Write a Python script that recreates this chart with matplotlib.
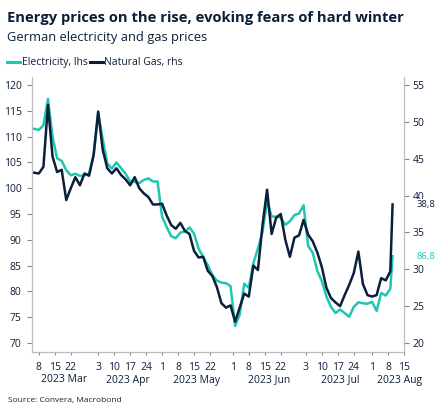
import matplotlib
matplotlib.use('Agg')
import matplotlib.pyplot as plt
from matplotlib.lines import Line2D
from matplotlib.transforms import blended_transform_factory
import pandas as pd

# ---- data ----
electricity = [111.5, 111.3, 112.2, 117.3, 110.0, 105.8, 105.3, 103.5, 102.5, 102.8,
               102.4, 102.5, 102.8, 106.5, 114.5, 109.5, 104.8, 103.8, 105.0, 103.9,
               102.8, 101.3, 101.2, 101.0, 101.6, 101.9, 101.3, 101.3, 94.5, 92.5,
               90.7, 90.3, 91.4, 91.6, 92.4, 91.2, 88.3, 86.7, 85.1, 83.2,
               82.1, 81.7, 81.6, 81.0, 73.3, 75.5, 81.5, 80.7, 85.5, 88.3,
               91.5, 97.5, 94.5, 94.5, 94.3, 92.9, 93.6, 94.8, 95.1, 96.7,
               88.8, 87.5, 84.0, 82.0, 79.0, 77.0, 75.8, 76.5, 75.8, 75.1,
               77.0, 77.9, 77.7, 77.6, 78.0, 76.2, 79.7, 79.2, 80.5, 86.8]
natural_gas = [43.1, 43.0, 43.9, 52.3, 45.3, 43.2, 43.5, 39.4, 41.0, 42.5,
               41.4, 43.0, 42.7, 45.5, 51.4, 46.2, 43.7, 43.0, 43.7, 42.8,
               42.2, 41.4, 42.5, 41.0, 40.3, 39.8, 38.8, 38.8, 38.9, 37.3,
               36.0, 35.5, 36.3, 35.2, 34.8, 32.5, 31.6, 31.7, 29.8, 29.1,
               27.6, 25.4, 24.8, 25.1, 22.9, 24.8, 26.7, 26.3, 30.5, 29.9,
               36.0, 40.8, 34.8, 37.0, 37.5, 34.0, 31.7, 34.3, 34.6, 36.7,
               34.7, 33.8, 32.3, 30.3, 27.5, 26.1, 25.5, 25.0, 26.5, 27.9,
               29.5, 32.4, 28.0, 26.5, 26.3, 26.5, 28.8, 28.5, 29.7, 38.8]
dates = list(pd.date_range('2023-03-06', '2023-08-09', freq='2D')) + [pd.Timestamp('2023-08-10')]

tick_dates = ['2023-03-08', '2023-03-15', '2023-03-22', '2023-04-03', '2023-04-10',
              '2023-04-17', '2023-04-24', '2023-05-01', '2023-05-08', '2023-05-15',
              '2023-05-22', '2023-06-01', '2023-06-08', '2023-06-15', '2023-06-22',
              '2023-07-03', '2023-07-10', '2023-07-17', '2023-07-24', '2023-08-01',
              '2023-08-08', '2023-08-15']
month_labels = ['2023 Mar', '2023 Apr', '2023 May', '2023 Jun', '2023 Jul', '2023 Aug']
month_label_dates = ['2023-03-19', '2023-04-16', '2023-05-16', '2023-06-17', '2023-07-18', '2023-08-13']

left_ticks = [70, 75, 80, 85, 90, 95, 100, 105, 110, 115, 120]
right_ticks = [20, 25, 30, 35, 40, 45, 50, 55]

title = 'Energy prices on the rise, evoking fears of hard winter'
subtitle = 'German electricity and gas prices'
source = 'Source: Convera, Macrobond'

TEAL = '#1fc6b0'
NAVY = '#0b1f3b'
GRAY = '#bdbdbd'

plt.rcParams['font.family'] = ['Open Sans', 'DejaVu Sans']

W, H = 445, 416
fig = plt.figure(figsize=(W / 100, H / 100), dpi=100)
ax = fig.add_axes([32 / W, (H - 352) / H, (404 - 32) / W, (352 - 77) / H])
ax2 = ax.twinx()

ax.plot(pd.to_datetime(dates), electricity, color=TEAL, lw=1.8, solid_joinstyle='round')
ax2.plot(pd.to_datetime(dates), natural_gas, color=NAVY, lw=1.8, solid_joinstyle='round')

ax.set_xlim(pd.Timestamp('2023-03-05'), pd.Timestamp('2023-08-15'))
ax.set_ylim(68.26, 121.55)
ax2.set_ylim(18.78, 56.09)

ax.set_yticks(left_ticks)
ax2.set_yticks(right_ticks)
td = pd.to_datetime(tick_dates)
ax.set_xticks(td)
ax.set_xticklabels([str(d.day) for d in td])

for a in (ax, ax2):
    a.spines['top'].set_visible(False)
    for s in ('left', 'right', 'bottom'):
        a.spines[s].set_color(GRAY)
        a.spines[s].set_linewidth(0.8)

ax.tick_params(axis='y', direction='out', length=3.5, width=0.8, color='#888888',
               labelsize=7.5, labelcolor=NAVY, pad=4)
ax2.tick_params(axis='y', direction='out', length=3.5, width=0.8, color='#888888',
                labelsize=7.5, labelcolor=NAVY, pad=2.5)
ax.tick_params(axis='x', direction='out', length=2.5, width=0.8, color='#888888',
               labelsize=7.5, labelcolor=NAVY, pad=4.5)

trans = ax.get_xaxis_transform()
for lab, d in zip(month_labels, pd.to_datetime(month_label_dates)):
    ax.text(d, -28 / 275, lab, transform=trans, ha='center', va='center',
            fontsize=7.5, color=NAVY, clip_on=False)

# end value labels (cover part of the tick label behind them, as in the original)
bt = blended_transform_factory(ax2.transAxes, ax2.transData)
ax2.text(1.034, natural_gas[-1], f'{natural_gas[-1]:.1f}'.replace('.', ','), transform=bt,
         ha='left', va='center', fontsize=6.8, color=NAVY, clip_on=False, zorder=5,
         bbox=dict(facecolor='white', edgecolor='none', pad=1.0))
ax.text(1.034, electricity[-1], f'{electricity[-1]:.1f}'.replace('.', ','),
        transform=blended_transform_factory(ax.transAxes, ax.transData),
        ha='left', va='center', fontsize=6.8, color=TEAL, clip_on=False, zorder=5,
        bbox=dict(facecolor='white', edgecolor='none', pad=1.0))

# titles
fig.text(7 / W, 1 - 18 / H, title, fontsize=10.6, fontweight='bold', color=NAVY, va='center', ha='left')
fig.text(7 / W, 1 - 37.5 / H, subtitle, fontsize=9.3, color=NAVY, va='center', ha='left')

# legend
ly = 1 - 62 / H
fig.add_artist(Line2D([7 / W, 20 / W], [ly, ly], color=TEAL, lw=2.2, transform=fig.transFigure))
fig.text(21.5 / W, ly, 'Electricity, lhs', fontsize=7.5, color=NAVY, va='center', ha='left')
fig.add_artist(Line2D([90 / W, 103 / W], [ly, ly], color=NAVY, lw=2.2, transform=fig.transFigure))
fig.text(104.5 / W, ly, 'Natural Gas, rhs', fontsize=7.5, color=NAVY, va='center', ha='left')

fig.text(8 / W, 1 - 400.5 / H, source, fontsize=6, color='#222222', va='center', ha='left')

fig.savefig('out.png', dpi=100)
